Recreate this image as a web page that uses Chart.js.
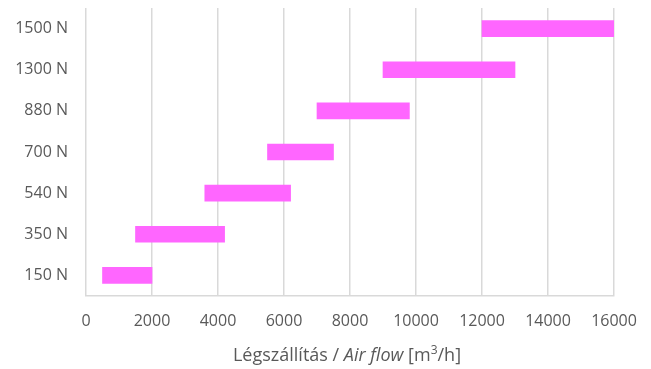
<!DOCTYPE html>
<html>
<head>
<meta charset="utf-8">
<script src="https://cdn.jsdelivr.net/npm/chart.js@4"></script>
<style>
  html, body { margin: 0; padding: 0; background: #ffffff; }
  #wrap { width: 651px; height: 369px; position: relative; }
</style>
</head>
<body>
<div id="wrap"><canvas id="chart" width="651" height="369"></canvas></div>
<script>
// Fan thrust classes and the air-flow range each one covers (m³/h)
const categories = ['150 N', '350 N', '540 N', '700 N', '880 N', '1300 N', '1500 N'];
const flowMin = [500, 1500, 3600, 5500, 7000, 9000, 12000];
const flowMax = [2000, 4200, 6200, 7500, 9800, 13000, 16000];
const xMin = 0, xMax = 16000, xStep = 2000;

const textColor = '#595959';
const gridColor = '#d9d9d9';
const barColor = '#ff66ff';
const FONT = '"Open Sans", sans-serif';

// Axis title with italic part and superscript, drawn below the x axis
const axisTitle = {
  id: 'axisTitle',
  afterDraw(chart) {
    const ctx = chart.ctx;
    const area = chart.chartArea;
    const parts = [
      { t: 'Légszállítás / ', f: '18px ' + FONT, dy: 0 },
      { t: 'Air flow', f: 'italic 18px ' + FONT, dy: 0 },
      { t: ' [m', f: '18px ' + FONT, dy: 0 },
      { t: '3', f: '12px ' + FONT, dy: -7 },
      { t: '/h]', f: '18px ' + FONT, dy: 0 }
    ];
    ctx.save();
    ctx.fillStyle = textColor;
    ctx.textBaseline = 'alphabetic';
    ctx.textAlign = 'left';
    let total = 0;
    parts.forEach(p => { ctx.font = p.f; p.w = ctx.measureText(p.t).width; total += p.w; });
    let x = (area.left + area.right) / 2 - total / 2 - 3;
    const y = 361;
    parts.forEach(p => { ctx.font = p.f; ctx.fillText(p.t, x, y + p.dy); x += p.w; });
    ctx.restore();
  }
};

new Chart(document.getElementById('chart'), {
  type: 'bar',
  data: {
    labels: categories,
    datasets: [{
      data: categories.map((c, i) => [flowMin[i], flowMax[i]]),
      backgroundColor: barColor,
      borderWidth: 0,
      borderSkipped: false,
      barThickness: 16
    }]
  },
  options: {
    indexAxis: 'y',
    responsive: false,
    animation: false,
    layout: { padding: { left: 0, right: 37, top: 8, bottom: 0 } },
    plugins: { legend: { display: false }, tooltip: { enabled: false } },
    scales: {
      x: {
        min: xMin,
        max: xMax,
        grid: { color: gridColor, lineWidth: 1.5, drawTicks: false },
        border: { display: true, color: gridColor, width: 1.5 },
        ticks: {
          stepSize: xStep,
          color: textColor,
          font: { family: FONT, size: 16 },
          padding: 16,
          maxRotation: 0,
          callback: v => String(v)
        },
        afterFit: s => { s.height = 73; s.paddingLeft = 0; s.paddingRight = 0; }
      },
      y: {
        reverse: true,
        grid: { display: false, drawTicks: false },
        border: { display: false },
        ticks: {
          color: textColor,
          font: { family: FONT, size: 16 },
          padding: 18
        },
        afterFit: s => { s.width = 86; s.paddingTop = 0; s.paddingBottom = 0; }
      }
    }
  },
  plugins: [axisTitle]
});
</script>
</body>
</html>
